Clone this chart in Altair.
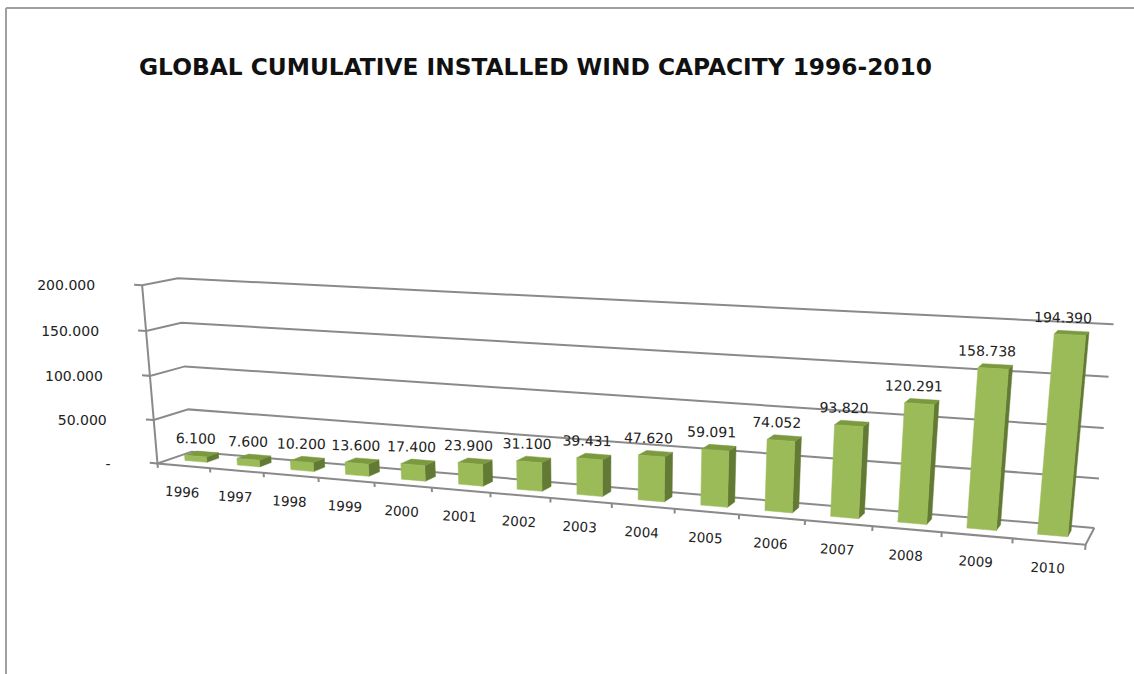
import altair as alt
import numpy as np
import pandas as pd

TITLE = "GLOBAL CUMULATIVE INSTALLED WIND CAPACITY 1996-2010"
years = [1996, 1997, 1998, 1999, 2000, 2001, 2002, 2003, 2004, 2005, 2006, 2007, 2008, 2009, 2010]
capacity = [6100, 7600, 10200, 13600, 17400, 23900, 31100, 39431, 47620, 59091, 74052, 93820, 120291, 158738, 194390]
axis_ticks = [0, 50000, 100000, 150000, 200000]
AXIS_MAX = 200000

W, H = 1134, 674
BAR_HALF = 0.21
BAR_FRONT, BAR_BACK = 0.36, 0.72
LABEL_DEPTH = 0.66


def dotted(v):
    return "-" if v == 0 else f"{v:,}".replace(",", ".")


# Camera calibration: box coordinates (slot, depth, share of axis) against screen position.
calib = [
    (0, 0, 0, 157, 463), (0, 0, .25, 153, 421), (0, 0, .5, 150, 376), (0, 0, .75, 146, 331), (0, 0, 1, 143, 285),
    (0, 1, 0, 193, 452), (0, 1, .25, 188, 409), (0, 1, .5, 184, 367), (0, 1, .75, 181, 323), (0, 1, 1, 178, 278),
    (15, 1, 0, 1094, 528), (15, 1, .25, 1099, 478), (15, 1, .5, 1104, 428), (15, 1, .75, 1109, 377), (15, 1, 1, 1113, 324),
    (15, 0, 0, 1085, 546), (1, 0, 0, 210, 468), (2, 0, 0, 264, 472.5), (7, 0, 0, 550, 497.5), (8, 0, 0, 612, 503),
    (9, 0, 0, 675, 508.5), (10, 0, 0, 739, 514), (13, 0, 0, 942, 532), (14, 0, 0, 1013, 539),
]
A, b = [], []
for s, d, h, X, Y in calib:
    A.append([1, s, d, h, 0, 0, 0, 0, -X * s, -X * d, -X * h])
    b.append(X)
    A.append([0, 0, 0, 0, 1, s, d, h, -Y * s, -Y * d, -Y * h])
    b.append(Y)
p = np.linalg.lstsq(np.array(A, float), np.array(b, float), rcond=None)[0]

hh = f"(datum.h/{AXIS_MAX})"
den = f"(1+({p[8]:.8f})*datum.s+({p[9]:.8f})*datum.d+({p[10]:.8f})*{hh})"
px_expr = f"(({p[0]:.6f})+({p[1]:.6f})*datum.s+({p[2]:.6f})*datum.d+({p[3]:.6f})*{hh})/{den}"
py_expr = f"(({p[4]:.6f})+({p[5]:.6f})*datum.s+({p[6]:.6f})*datum.d+({p[7]:.6f})*{hh})/{den}"

x_enc = alt.X("px:Q", scale=alt.Scale(domain=[0, W], range=[0, W], nice=False, zero=False), axis=None)
y_enc = alt.Y("py:Q", scale=alt.Scale(domain=[0, H], range=[0, H], nice=False, zero=False), axis=None)


def projected(rows):
    return alt.Chart(pd.DataFrame(rows)).transform_calculate(px=px_expr, py=py_expr)


# Box faces of every column, built from its capacity value.
faces = {"front": [], "side": [], "top": []}
for i, (yr, v) in enumerate(zip(years, capacity)):
    s0, s1 = i + .5 - BAR_HALF, i + .5 + BAR_HALF
    d0, d1 = BAR_FRONT, BAR_BACK
    corners = {
        "front": [(s0, d0, 0), (s1, d0, 0), (s1, d0, v), (s0, d0, v)],
        "side": [(s1, d0, 0), (s1, d1, 0), (s1, d1, v), (s1, d0, v)],
        "top": [(s0, d0, v), (s1, d0, v), (s1, d1, v), (s0, d1, v)],
    }
    for face, pts in corners.items():
        for k, (s, d, h) in enumerate(pts):
            faces[face].append({"year": yr, "k": k, "s": s, "d": d, "h": h})


def face_layer(face, colour):
    return projected(faces[face]).mark_line(
        interpolate="linear-closed", fill=colour, stroke=colour, strokeWidth=0.5
    ).encode(x=x_enc, y=y_enc, detail="year:N", order="k:Q")


# Wall gridlines, floor outline, and axis ticks.
segments = []
for t in axis_ticks:
    for k, (s, d) in enumerate([(-0.15, 0), (0, 0), (0, 1), (15, 1)]):
        segments.append({"g": f"grid{t}", "k": k, "s": s, "d": d, "h": t})
for k, (s, d, h) in enumerate([(0, 0, AXIS_MAX), (0, 0, 0), (15, 0, 0), (15, 1, 0)]):
    segments.append({"g": "frame", "k": k, "s": s, "d": d, "h": h})
for i in range(len(years) + 1):
    segments.append({"g": f"tick{i}", "k": 0, "s": i, "d": 0, "h": 0})
    segments.append({"g": f"tick{i}", "k": 1, "s": i, "d": 0, "h": -5000})

frame = projected(segments).mark_line(color="#8a8a8a", strokeWidth=2).encode(
    x=x_enc, y=y_enc, detail="g:N", order="k:Q"
)

value_rows = [{"s": i + .5, "d": LABEL_DEPTH, "h": v, "label": dotted(v)} for i, v in enumerate(capacity)]
value_labels = projected(value_rows).mark_text(
    font="DejaVu Sans", fontSize=14, color="#222222", dx=-10, dy=-13, angle=1
).encode(x=x_enc, y=y_enc, text="label:N")

year_rows = [{"s": i + .5, "d": 0, "h": 0, "label": str(yr)} for i, yr in enumerate(years)]
year_labels = projected(year_rows).mark_text(
    font="DejaVu Sans", fontSize=13.5, color="#222222", dy=27, angle=3
).encode(x=x_enc, y=y_enc, text="label:N")

axis_rows = [{"s": 0, "d": 0, "h": t, "label": dotted(t)} for t in axis_ticks]
axis_labels = projected(axis_rows).mark_text(
    font="DejaVu Sans", fontSize=14, color="#222222", align="right", dx=-47, dy=1
).encode(x=x_enc, y=y_enc, text="label:N")

title = alt.Chart(pd.DataFrame({"t": [TITLE]})).mark_text(
    font="DejaVu Sans", fontWeight="bold", fontSize=23.3, color="#111111", align="left", baseline="middle"
).encode(x=alt.value(139), y=alt.value(68), text="t:N")

border_top = alt.Chart(pd.DataFrame({"a": [0]})).mark_rule(color="#808080", strokeWidth=1.5).encode(
    x=alt.value(6), x2=alt.value(1134), y=alt.value(8)
)
border_left = alt.Chart(pd.DataFrame({"a": [0]})).mark_rule(color="#a0a0a0", strokeWidth=2).encode(
    x=alt.value(6), y=alt.value(8), y2=alt.value(674)
)

chart = alt.layer(
    border_top, border_left, frame,
    face_layer("side", "#627a33"), face_layer("top", "#7b9a40"), face_layer("front", "#9bbb59"),
    value_labels, year_labels, axis_labels, title,
).properties(
    width=W, height=H, padding=0, autosize=alt.AutoSizeParams(type="none"), background="white"
).configure_view(stroke=None)

chart.save("out.html", embed_options={"renderer": "svg", "actions": False})
